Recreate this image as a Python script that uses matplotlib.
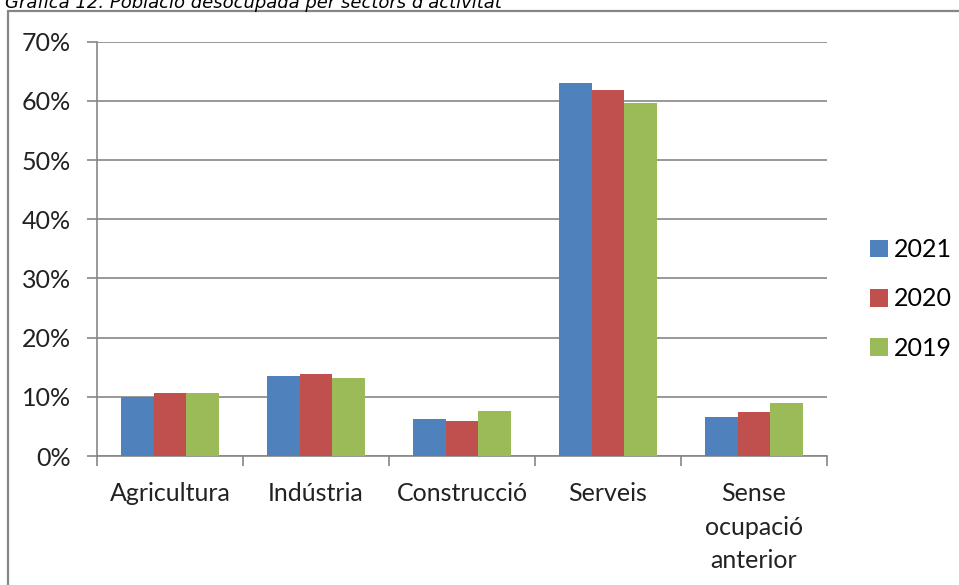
import matplotlib
matplotlib.use('Agg')
import matplotlib.pyplot as plt
import numpy as np
from matplotlib.patches import Rectangle
from matplotlib.ticker import FuncFormatter, FixedLocator

# dades llegides de la gràfica
sectors = ['Agricultura', 'Indústria', 'Construcció', 'Serveis', 'Sense\nocupació\nanterior']
anys = ['2021', '2020', '2019']
v2021 = [10.0, 13.5, 6.3, 63.0, 6.6]
v2020 = [10.6, 13.9, 5.9, 61.9, 7.4]
v2019 = [10.6, 13.1, 7.6, 59.7, 9.0]
colors = ['#4F81BD', '#C0504D', '#9BBB59']

plt.rcParams['font.family'] = ['Lato', 'DejaVu Sans']
grey = '#868686'
W, H = 959, 585

fig = plt.figure(figsize=(W / 100, H / 100), dpi=100)
# marc de la gràfica (tallat per baix i per la dreta)
fig.patches.append(Rectangle((8 / W, -0.1), 1.1, 1.1 - 11 / H, transform=fig.transFigure,
                             fill=False, edgecolor=grey, lw=1.6))
fig.text(5 / W, 1 - 8 / H, "Gràfica 12. Població desocupada per sectors d'activitat",
         family='DejaVu Sans', style='italic', fontsize=13, va='baseline', ha='left')

ax = fig.add_axes([97 / W, (H - 456) / H, (827 - 97) / W, (456 - 41.7) / H])
x = np.arange(len(sectors))
w = 1 / 4.5
for i, (vals, nom) in enumerate(zip([v2021, v2020, v2019], anys)):
    ax.bar(x + (i - 1) * w, vals, w, color=colors[i], label=nom, zorder=3)

ax.set_xlim(-0.5, len(sectors) - 0.5)
ax.set_ylim(0, 70)
ax.set_yticks(np.arange(0, 71, 10))
ax.yaxis.set_major_formatter(FuncFormatter(lambda v, p: f'{v:.0f}%'))
ax.grid(axis='y', color=grey, lw=1.2, zorder=0)
ax.set_xticks(x)
ax.set_xticklabels(sectors, linespacing=1.55)
ax.xaxis.set_minor_locator(FixedLocator(np.arange(-0.5, len(sectors), 1)))
ax.tick_params(axis='x', which='major', length=0, pad=19, labelsize=18, colors='#222222')
ax.tick_params(axis='x', which='minor', length=7, width=1.2, color=grey, direction='out')
ax.tick_params(axis='y', length=7, width=1.2, color=grey, pad=12, labelsize=18, labelcolor='#222222')
for s in ['top', 'right']:
    ax.spines[s].set_visible(False)
for s in ['left', 'bottom']:
    ax.spines[s].set_color(grey)
    ax.spines[s].set_linewidth(1.2)

fig.legend(loc='center left', bbox_to_anchor=(860 / W, 1 - 299 / H), frameon=False,
           fontsize=18, handlelength=0.7, handleheight=0.7, handletextpad=0.25,
           labelspacing=1.05, borderaxespad=0)

fig.savefig('out.png', dpi=100)
